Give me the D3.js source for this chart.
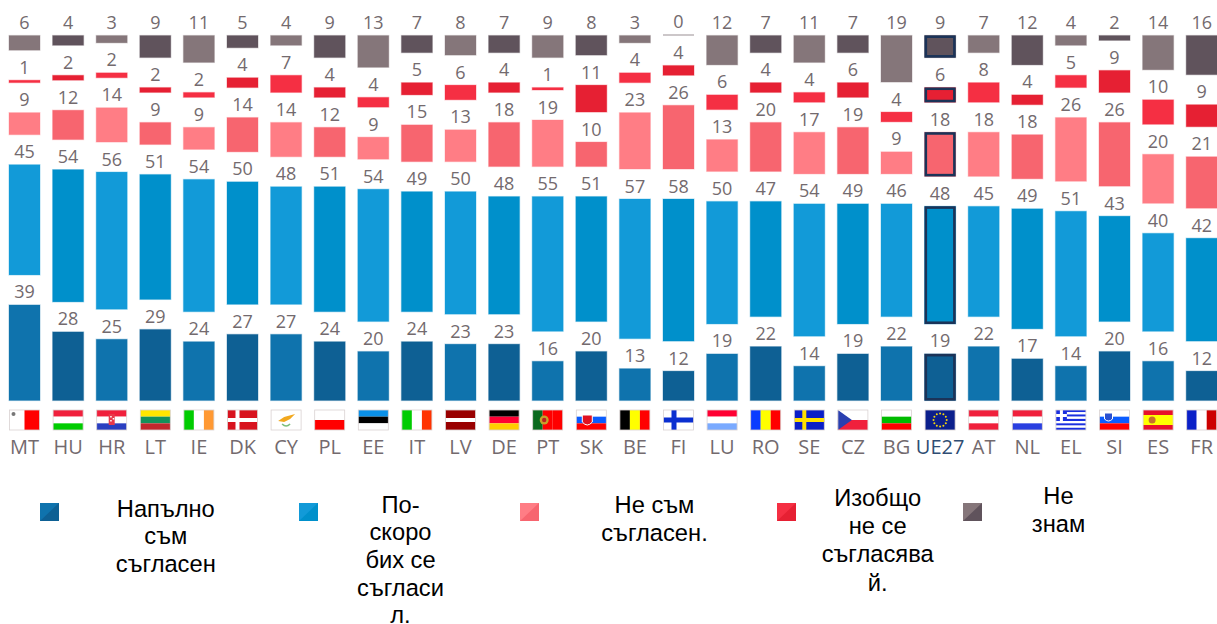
<!DOCTYPE html>
<html><head><meta charset="utf-8">
<style>html,body{margin:0;padding:0;background:#fff}svg{display:block}</style>
<script src="https://cdn.jsdelivr.net/npm/d3@7"></script></head><body>
<svg id="c" width="1217" height="624"></svg>
<script>
const countries=["MT","HU","HR","LT","IE","DK","CY","PL","EE","IT","LV","DE","PT","SK","BE","FI","LU","RO","SE","CZ","BG","UE27","AT","NL","EL","SI","ES","FR"];
const totallyAgree=[39,28,25,29,24,27,27,24,20,24,23,23,16,20,13,12,19,22,14,19,22,19,22,17,14,20,16,12];
const tendToAgree=[45,54,56,51,54,50,48,51,54,49,50,48,55,51,57,58,50,47,54,49,46,48,45,49,51,43,40,42];
const tendToDisagree=[9,12,14,9,9,14,14,12,9,15,13,18,19,10,23,26,13,20,17,19,9,18,18,18,26,26,20,21];
const totallyDisagree=[1,2,2,2,2,4,7,4,4,5,6,4,1,11,4,4,6,4,4,6,4,6,8,4,5,9,10,9];
const dontKnow=[6,4,3,9,11,5,4,9,13,7,8,7,9,8,3,0,12,7,11,7,19,9,7,12,4,2,14,16];
const seriesValues=[totallyAgree,tendToAgree,tendToDisagree,totallyDisagree,dontKnow];
const lightColors=["#0f73ad","#129ad8","#ff7d85","#f52f43","#85767a"];
const darkColors=["#0e6094","#0090cb","#f7656f","#e62033","#60535c"];
const legendLines=[["Напълно","съм","съгласен"],["По-","скоро","бих се","съгласи","л."],["Не съм","съгласен."],["Изобщо","не се","съгласява","й."],["Не","знам"]];
const flagStripes={MT:["v","#fff","#f00"],HU:["h","#f0203c","#fff","#0c0"],HR:["h","#f0203c","#fff","#2a3fc0"],LT:["h","#ffe600","#13915a","#c1272d"],IE:["v","#0c0","#fff","#f93"],DK:["h","#d8131e"],CY:["h","#fff"],PL:["h","#fff","#f00"],EE:["h","#0a90e8","#000","#fff"],IT:["v","#0c0","#fff","#f30"],LV:["h","#900","#900","#fff","#900","#900"],DE:["h","#000","#f03","#fc0"],PT:["v","#0a6a1e","#f00","#f00"],SK:["h","#fff","#0a5cff","#f00"],BE:["v","#000","#ff0","#f00"],FI:["h","#fff"],LU:["h","#f03","#fff","#7aaaff"],RO:["v","#0a3cff","#ff0","#f00"],SE:["h","#0a1ec8"],CZ:["h","#fff","#f0203c"],BG:["h","#fff","#0b0","#f00"],UE27:["h","#0b1f8c"],AT:["h","#f0203c","#fff","#f0203c"],NL:["h","#f0203c","#fff","#2a3fe0"],EL:["h","#1a2fe0","#fff","#1a2fe0","#fff","#1a2fe0","#fff","#1a2fe0","#fff","#1a2fe0"],SI:["h","#fff","#0a5cff","#f00"],ES:["h","#e8102a","#ff0","#ff0","#e8102a"],FR:["v","#0a20c8","#fff","#c00"]};

const svg=d3.select("#c");
const unit=2.45,gap=30,baseY=400.5;
const x=d3.scaleBand().domain(countries).range([2.7,2.7+28*43.6]).paddingInner(0.289).paddingOuter(0.1445);
const h=d3.scaleLinear().domain([0,100]).range([0,100*unit]);
const labelColor="#736a6e";
const font="'Open Sans',sans-serif";

countries.forEach((c,i)=>{
  let bottom=baseY;
  const g=svg.append("g");
  seriesValues.forEach((vals,s)=>{
    const v=vals[i],ht=Math.max(h(v),1),top=bottom-ht;
    const col=(i%2?darkColors:lightColors)[s];
    g.append("rect").attr("x",x(c)).attr("y",top).attr("width",x.bandwidth()).attr("height",ht)
      .attr("fill",v===0?"#9a9094":col).attr("stroke",v===0?"none":col).attr("stroke-opacity",.3).attr("stroke-width",1.2);
    if(c==="UE27"){
      g.append("rect").attr("x",x(c)+1.2).attr("y",top+1.2).attr("width",x.bandwidth()-2.4).attr("height",ht-2.4)
        .attr("fill","none").attr("stroke","#1b3358").attr("stroke-width",2.6);
    }
    g.append("text").attr("x",x(c)+x.bandwidth()/2).attr("y",top-6.5).attr("text-anchor","middle")
      .attr("font-family",font).attr("font-size",18).attr("fill",labelColor).text(v);
    bottom=top-gap;
  });
  drawFlag(c,x(c)+0.5,410,30,20);
});

const axis=d3.axisBottom(x).tickSize(0).tickPadding(0);
const ax=svg.append("g").attr("transform","translate(0,437)").call(axis);
ax.select(".domain").remove();
ax.selectAll("text").attr("font-family",font).attr("font-size",20).attr("y",0).attr("dy","0.86em")
  .attr("fill",d=>d==="UE27"?"#2f4d73":labelColor);

function drawFlag(c,fx,fy,w,ht){
  const f=svg.append("g").attr("transform",`translate(${fx},${fy})`);
  const spec=flagStripes[c],dir=spec[0],cols=spec.slice(1),n=cols.length;
  cols.forEach((col,k)=>{
    f.append("rect").attr("x",dir==="v"?k*w/n:0).attr("y",dir==="h"?k*ht/n:0)
     .attr("width",dir==="v"?w/n:w).attr("height",dir==="h"?ht/n:ht).attr("fill",col);
  });
  const r=(a,b,cc,dd,col)=>f.append("rect").attr("x",a).attr("y",b).attr("width",cc).attr("height",dd).attr("fill",col);
  const circ=(a,b,rad,col)=>f.append("circle").attr("cx",a).attr("cy",b).attr("r",rad).attr("fill",col);
  if(c==="MT"){circ(4,4,2,"#777");}
  if(c==="HR"){r(12,4,6,11,"#e8394a");r(13.5,6,1.5,1.5,"#fff");r(16,8,1.5,1.5,"#fff");r(13.5,10,1.5,1.5,"#fff");}
  if(c==="DK"){r(8,0,4,ht,"#fff");r(0,8,w,4,"#fff");}
  if(c==="CY"){f.append("path").attr("d","M7 11 L13 7 L24 4 L19 9 L13 12 Z").attr("fill","#f2a81e");f.append("path").attr("d","M11 14 Q15 18 19 14").attr("fill","none").attr("stroke","#7cbf7c").attr("stroke-width",1.5);}
  if(c==="PT"){circ(11.5,10,4.5,"#c9a02a");circ(11.5,10,2.2,"#b22");}
  if(c==="SK"||c==="SI"){f.append("path").attr("d",c==="SK"?"M6 5 H16 V12 Q11 18 6 12 Z":"M5 3 H13 V9 Q9 13 5 9 Z").attr("fill",c==="SK"?"#e01020":"#2a50d0").attr("stroke","#fff");}
  if(c==="FI"){r(8,0,5,ht,"#0a2fd0");r(0,7.5,w,5,"#0a2fd0");}
  if(c==="SE"){r(8,0,4,ht,"#ffe000");r(0,8,w,4,"#ffe000");}
  if(c==="CZ"){f.append("path").attr("d",`M0 0 L14 10 L0 20 Z`).attr("fill","#2a3fb0");}
  if(c==="UE27"){d3.range(12).forEach(k=>{const a=k/12*2*Math.PI;circ(15+6.6*Math.cos(a),10+6.6*Math.sin(a),1,"#f5d80a");});}
  if(c==="EL"){r(0,0,11,11,"#1a2fe0");r(4,0,3,11,"#fff");r(0,4,11,3,"#fff");}
  if(c==="ES"){circ(9,10,3.5,"#c8702a");}
  f.append("rect").attr("x",0).attr("y",0).attr("width",w).attr("height",ht).attr("fill","none").attr("stroke","#d9d2d2").attr("stroke-width",.8);
}

const swatchX=[40,299,520,777,963];
const textX=[165.8,400.5,654.5,877.7,1058.5];
const textY=[516.5,512.8,513,506,504];
const lineStep=[27.5,27.6,27.5,28.2,27.7];
swatchX.forEach((sx,s)=>{
  const g=svg.append("g").attr("transform",`translate(${sx},503)`);
  g.append("rect").attr("width",19).attr("height",18).attr("fill",darkColors[s]);
  g.append("path").attr("d","M0 0 H19 L0 18 Z").attr("fill",lightColors[s]);
  const t=svg.append("text").attr("font-family","'Liberation Sans',Arial,sans-serif").attr("font-size",23.7).attr("fill","#000").attr("text-anchor","middle");
  legendLines[s].forEach((line,k)=>t.append("tspan").attr("x",textX[s]).attr("y",textY[s]+k*lineStep[s]).text(line));
});
</script></body></html>
